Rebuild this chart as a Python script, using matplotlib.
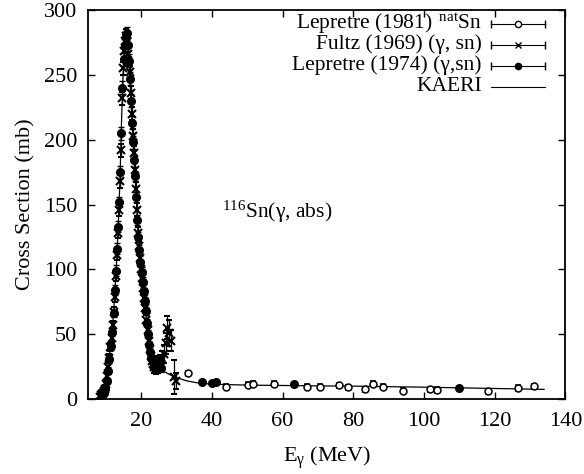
import numpy as np
import matplotlib
matplotlib.use('Agg')
import matplotlib.pyplot as plt
#----------------------------------------------------------
plt.rcParams['font.family'] = ['Liberation Serif', 'DejaVu Serif']
plt.rcParams['mathtext.fontset'] = 'custom'
plt.rcParams['mathtext.rm'] = 'Liberation Serif'
plt.rcParams['mathtext.it'] = 'Liberation Serif:italic'
#----------------------------------------------------------
# Fultz (1969) (gamma, sn)
fultz_e = [8.3, 8.6, 8.9, 9.2, 9.5, 9.8, 10.1, 10.4, 10.7, 11.0, 11.3, 11.6, 11.9,
           12.2, 12.5, 12.8, 13.1, 13.4, 13.7, 14.0, 14.3, 14.6, 14.9, 15.2, 15.5,
           15.8, 16.1, 16.4, 16.7, 17.0, 17.3, 17.6, 17.9, 18.2, 18.5, 18.8, 19.1,
           19.4, 19.7, 20.0, 20.3, 20.6, 20.9, 21.2, 21.5, 21.8, 22.1, 22.4, 22.7,
           23.0, 23.3, 23.6, 23.9, 24.2, 24.5, 24.8, 25.2, 25.6, 26.0, 26.4, 26.9,
           27.4, 27.9, 28.4, 29.3, 29.8]
fultz_s = [2, 3, 4, 5, 6, 8, 12, 18, 25, 32, 40, 47, 57,
           67, 79, 95, 111, 128, 146, 168, 192, 232, 255, 268, 276,
           280, 276, 266, 252, 236, 220, 203, 190, 177, 162, 146, 128,
           118, 109, 100, 93, 86, 78, 70, 61, 53, 45, 39, 33,
           29, 27, 25, 28, 24, 27, 25, 29, 27, 31, 35, 43,
           55, 51, 45, 17, 14]
fultz_err = [2, 2, 2, 3, 3, 3, 3, 3, 3, 3, 3, 3, 3,
             4, 4, 4, 4, 4, 5, 5, 5, 5, 5, 5, 5,
             5, 5, 5, 5, 5, 5, 5, 5, 5, 5, 5, 5,
             4, 4, 4, 4, 4, 4, 4, 4, 4, 4, 4, 4,
             4, 4, 5, 5, 5, 5, 5, 5, 5, 6, 7, 8,
             9, 10, 8, 13, 6]

# Lepretre (1974) (gamma, sn)
lep74_e = [9.0, 9.4, 9.8, 10.2, 10.6, 11.0, 11.4, 11.8, 12.2, 12.6, 12.9, 13.2,
           13.5, 13.8, 14.1, 14.4, 14.7, 15.0, 15.3, 15.6, 15.9, 16.2, 16.5, 16.8,
           17.1, 17.4, 17.7, 18.0, 18.3, 18.6, 18.9, 19.2, 19.5, 19.8, 20.1, 20.4,
           20.7, 21.0, 21.3, 21.6, 21.9, 22.2, 22.5, 22.8, 23.2, 23.6, 24.0, 24.5,
           25.0, 25.5, 37.2, 40.0, 41.2, 63.2, 109.8]
lep74_s = [3, 5, 8, 14, 22, 31, 41, 52, 66, 84, 99, 116,
           133, 152, 175, 205, 240, 262, 273, 279, 282, 273, 261, 247,
           230, 213, 198, 184, 172, 156, 138, 125, 115, 106, 98, 90,
           83, 76, 68, 59, 50, 42, 36, 32, 29, 27, 25, 23,
           25, 24, 13.5, 12.5, 13, 12, 8.5]
lep74_err = [2, 2, 2, 2, 3, 3, 3, 3, 3, 4, 4, 4,
             4, 4, 5, 5, 5, 5, 5, 5, 5, 5, 5, 5,
             5, 5, 5, 5, 4, 4, 4, 4, 4, 4, 4, 4,
             3, 3, 3, 3, 3, 3, 3, 3, 3, 3, 3, 3,
             3, 3, 1.5, 1.5, 1.5, 1.5, 1.5]

# Lepretre (1981) natSn
lep81_e = [33.3, 43.9, 50.2, 51.7, 57.5, 67.0, 70.5, 76.1, 78.6, 83.2, 85.6,
           88.3, 94.1, 101.6, 103.7, 118.0, 126.7, 131.0]
lep81_s = [20, 9.5, 11, 12, 12, 9.5, 9.5, 10.5, 9, 7.5, 12,
           9.5, 6.5, 7.5, 7, 6, 8.5, 10]
lep81_err = [2, 2, 2, 2, 2, 2, 2, 2, 2, 2, 2,
             2, 2, 2, 2, 2, 2, 2]

# KAERI evaluation
kaeri_e = [7.0, 7.5, 8.5, 9.5, 10.5, 11.5, 12.0, 12.5, 13.0, 13.5, 14.0, 14.5, 15.0,
           15.5, 16.0, 16.5, 17.0, 17.5, 18.0, 18.5, 19.0, 19.5, 20.0, 21.0, 22.0,
           23.0, 24.0, 26.0, 28.0, 30.0, 33.0, 36.0, 40.0, 50.0, 60.0, 70.0, 80.0,
           90.0, 100.0, 110.0, 120.0, 134.0]
kaeri_s = [0, 1, 3, 7, 21, 45, 60, 80, 104, 133, 170, 220, 260,
           277, 280, 262, 236, 208, 184, 160, 132, 115, 100, 76, 47,
           33, 27, 22, 19, 16.5, 14, 12.5, 11.5, 10.8, 10.5, 10.2, 10,
           9.6, 9.2, 8.7, 8.2, 7.5]

legend_labels = [r'Lepretre (1981) $^{\,\mathrm{nat}}$Sn', r'Fultz (1969) (γ, sn)',
                 r'Lepretre (1974) (γ,sn)', 'KAERI']
#----------------------------------------------------------
fig = plt.figure(figsize=(5.84, 4.74), dpi=100)
ax = fig.add_subplot(111)
fig.subplots_adjust(left=0.151, right=0.968, top=0.979, bottom=0.158)

ax.plot(kaeri_e, kaeri_s, '-', color='black', linewidth=0.9)
ax.errorbar(fultz_e, fultz_s, yerr=fultz_err, fmt='x', color='black',
            markersize=6, markeredgewidth=1.5, elinewidth=0.9, capsize=2.5)
ax.errorbar(lep74_e, lep74_s, yerr=lep74_err, fmt='o', color='black',
            markersize=5.5, elinewidth=0.9, capsize=2.5)
ax.errorbar(lep81_e, lep81_s, yerr=lep81_err, fmt='o', color='black',
            markerfacecolor='white', markersize=5, markeredgewidth=1.1,
            elinewidth=0.8, capsize=2)

ax.set_xlim([5, 140])
ax.set_ylim([0, 300])
ax.set_xticks([20, 40, 60, 80, 100, 120, 140])
ax.set_yticks([0, 50, 100, 150, 200, 250, 300])
ax.tick_params(direction='in', top=True, right=True, labelsize=16, length=5, width=1)
ax.tick_params(axis='x', pad=9)
ax.tick_params(axis='y', pad=8)
for s in ax.spines.values():
	s.set_linewidth(1.3)

ax.set_xlabel(r'E$_{\mathrm{γ}}$ (MeV)', fontsize=16, labelpad=10)
ax.set_ylabel('Cross Section (mb)', fontsize=16, labelpad=6)
ax.text(43, 140, r'$^{\mathrm{116}}$Sn(γ, abs)', fontsize=15.5)

# legend drawn by hand, gnuplot style
rows = [0.965, 0.911, 0.857, 0.803]
styles = [dict(marker='o', mfc='white'), dict(marker='x', mfc='black'),
          dict(marker='o', mfc='black'), None]
x0, x1 = 0.845, 0.958
for y, lab, st in zip(rows, legend_labels, styles):
	ax.text(0.825, y, lab, transform=ax.transAxes, ha='right', va='center', fontsize=15.5)
	ax.plot([x0, x1], [y, y], '-', color='black', linewidth=0.8, transform=ax.transAxes)
	if st is not None:
		ax.plot([x0, x1], [y, y], linestyle='none', marker='|', markersize=6,
		        color='black', transform=ax.transAxes)
		ax.plot([(x0 + x1) / 2], [y], linestyle='none', marker=st['marker'],
		        markerfacecolor=st['mfc'], markersize=4.5, color='black',
		        transform=ax.transAxes)

fig.savefig('out.png', dpi=100)
